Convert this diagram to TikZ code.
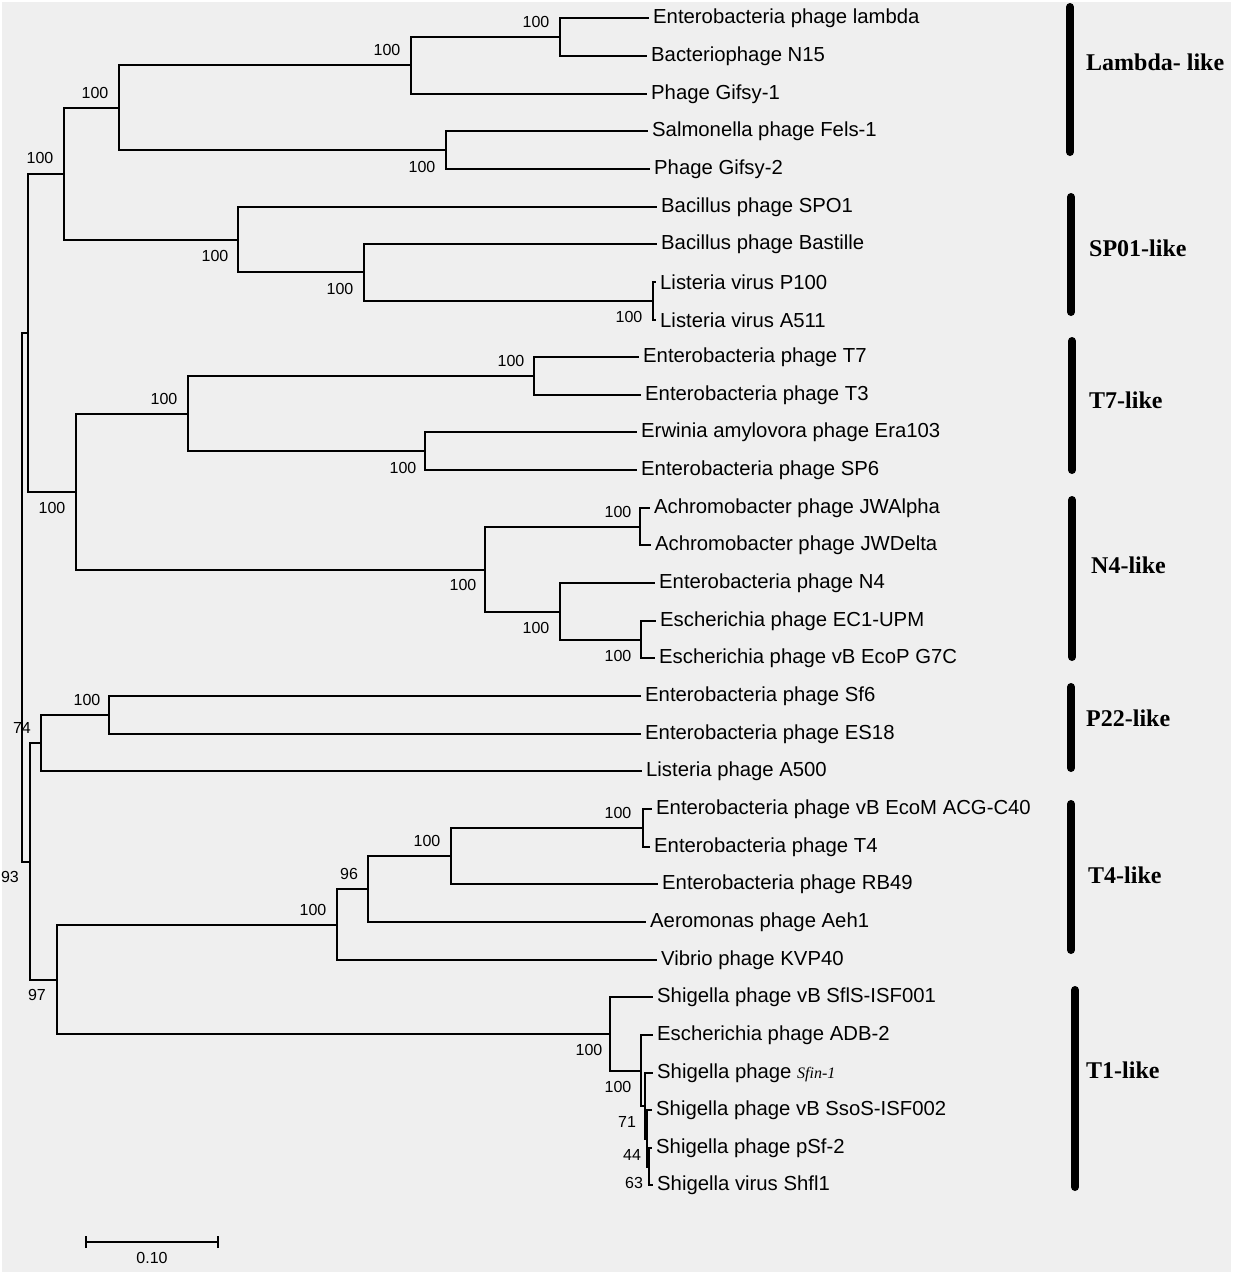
\documentclass[tikz,border=0pt]{standalone}
\usepackage{fontspec}
\setmainfont{Liberation Sans}
\newfontfamily\grpfont{Liberation Serif}
\definecolor{bg}{RGB}{239,239,239}
\begin{document}
\begin{tikzpicture}[x=1pt,y=-1pt,
  br/.style={line width=2pt, line join=miter, line cap=rect},
  leaf/.style={anchor=west, inner sep=0pt, font=\fontsize{20.3}{24}\selectfont},
  bs/.style={inner sep=0pt, font=\fontsize{16}{19}\selectfont},
  grp/.style={anchor=west, inner sep=0pt, font=\grpfont\bfseries\fontsize{24}{28}\selectfont},
  gbar/.style={line width=8pt, line cap=round}]
\useasboundingbox (0,0) rectangle (1233,1275);
\fill[white] (0,0) rectangle (1233,1275);
\fill[bg] (2,2) rectangle (1231,1272);

% leaf tips
\coordinate (t0) at (648,18);
\coordinate (t1) at (646,56);
\coordinate (t2) at (646,94);
\coordinate (t3) at (647,131);
\coordinate (t4) at (649,169);
\coordinate (t5) at (656,207);
\coordinate (t6) at (656,244);
\coordinate (t7) at (655,282);
\coordinate (t8) at (655,320);
\coordinate (t9) at (638,357);
\coordinate (t10) at (640,395);
\coordinate (t11) at (636,432);
\coordinate (t12) at (636,470);
\coordinate (t13) at (649,508);
\coordinate (t14) at (650,545);
\coordinate (t15) at (654,583);
\coordinate (t16) at (655,621);
\coordinate (t17) at (654,658);
\coordinate (t18) at (640,696);
\coordinate (t19) at (640,734);
\coordinate (t20) at (641,771);
\coordinate (t21) at (651,809);
\coordinate (t22) at (649,847);
\coordinate (t23) at (657,884);
\coordinate (t24) at (645,922);
\coordinate (t25) at (656,960);
\coordinate (t26) at (652,997);
\coordinate (t27) at (652,1035);
\coordinate (t28) at (652,1073);
\coordinate (t29) at (651,1110);
\coordinate (t30) at (651,1148);
\coordinate (t31) at (652,1185);

% leaf names
\node[leaf] (n0) at ([xshift=5pt]t0) {Enterobacteria phage lambda};
\node[leaf] (n1) at ([xshift=5pt]t1) {Bacteriophage N15};
\node[leaf] (n2) at ([xshift=5pt]t2) {Phage Gifsy-1};
\node[leaf] (n3) at ([xshift=5pt]t3) {Salmonella phage Fels-1};
\node[leaf] (n4) at ([xshift=5pt]t4) {Phage Gifsy-2};
\node[leaf] (n5) at ([xshift=5pt]t5) {Bacillus phage SPO1};
\node[leaf] (n6) at ([xshift=5pt]t6) {Bacillus phage Bastille};
\node[leaf] (n7) at ([xshift=5pt]t7) {Listeria virus P100};
\node[leaf] (n8) at ([xshift=5pt]t8) {Listeria virus A511};
\node[leaf] (n9) at ([xshift=5pt]t9) {Enterobacteria phage T7};
\node[leaf] (n10) at ([xshift=5pt]t10) {Enterobacteria phage T3};
\node[leaf] (n11) at ([xshift=5pt]t11) {Erwinia amylovora phage Era103};
\node[leaf] (n12) at ([xshift=5pt]t12) {Enterobacteria phage SP6};
\node[leaf] (n13) at ([xshift=5pt]t13) {Achromobacter phage JWAlpha};
\node[leaf] (n14) at ([xshift=5pt]t14) {Achromobacter phage JWDelta};
\node[leaf] (n15) at ([xshift=5pt]t15) {Enterobacteria phage N4};
\node[leaf] (n16) at ([xshift=5pt]t16) {Escherichia phage EC1-UPM};
\node[leaf] (n17) at ([xshift=5pt]t17) {Escherichia phage vB EcoP G7C};
\node[leaf] (n18) at ([xshift=5pt]t18) {Enterobacteria phage Sf6};
\node[leaf] (n19) at ([xshift=5pt]t19) {Enterobacteria phage ES18};
\node[leaf] (n20) at ([xshift=5pt]t20) {Listeria phage A500};
\node[leaf] (n21) at ([xshift=5pt]t21) {Enterobacteria phage vB EcoM ACG-C40};
\node[leaf] (n22) at ([xshift=5pt]t22) {Enterobacteria phage T4};
\node[leaf] (n23) at ([xshift=5pt]t23) {Enterobacteria phage RB49};
\node[leaf] (n24) at ([xshift=5pt]t24) {Aeromonas phage Aeh1};
\node[leaf] (n25) at ([xshift=5pt]t25) {Vibrio phage KVP40};
\node[leaf] (n26) at ([xshift=5pt]t26) {Shigella phage vB SflS-ISF001};
\node[leaf] (n27) at ([xshift=5pt]t27) {Escherichia phage ADB-2};
\node[leaf] (n28) at ([xshift=5pt]t28) {Shigella phage {\grpfont\itshape\fontsize{16}{19}\selectfont Sfin-1}};
\node[leaf] (n29) at ([xshift=5pt]t29) {Shigella phage vB SsoS-ISF002};
\node[leaf] (n30) at ([xshift=5pt]t30) {Shigella phage pSf-2};
\node[leaf] (n31) at ([xshift=5pt]t31) {Shigella virus Shfl1};

% internal nodes
\coordinate (L3) at (560,37);
\coordinate (L2) at (411,65);
\coordinate (L4) at (446,150);
\coordinate (L1) at (119,108);
\coordinate (S3) at (653,301);
\coordinate (S2) at (364,272);
\coordinate (S1) at (238,240);
\coordinate (C) at (64,174);
\coordinate (T2) at (534,376);
\coordinate (T3) at (425,451);
\coordinate (T1) at (188,414);
\coordinate (N2) at (640,527);
\coordinate (N4n) at (641,640);
\coordinate (N3) at (560,612);
\coordinate (N1) at (485,570);
\coordinate (D) at (76,492);
\coordinate (A) at (28,333);
\coordinate (P1) at (109,715);
\coordinate (P0) at (41,743);
\coordinate (F3) at (643,828);
\coordinate (F2) at (451,856);
\coordinate (F1) at (368,889);
\coordinate (F) at (337,925);
\coordinate (G4) at (649,1167);
\coordinate (G3) at (647,1139);
\coordinate (G2) at (645,1106);
\coordinate (G1) at (641,1071);
\coordinate (G) at (610,1034);
\coordinate (E) at (57,980);
\coordinate (B) at (30,862);
\coordinate (R) at (22,598);

% branches
\draw[br] (t0) -| (L3) |- (t1);
\draw[br] (L3) -| (L2) |- (t2);
\draw[br] (t3) -| (L4) |- (t4);
\draw[br] (L2) -| (L1) |- (L4);
\draw[br] (t7) -| (S3) |- (t8);
\draw[br] (t6) -| (S2) |- (S3);
\draw[br] (t5) -| (S1) |- (S2);
\draw[br] (L1) -| (C) |- (S1);
\draw[br] (t9) -| (T2) |- (t10);
\draw[br] (t11) -| (T3) |- (t12);
\draw[br] (T2) -| (T1) |- (T3);
\draw[br] (t13) -| (N2) |- (t14);
\draw[br] (t16) -| (N4n) |- (t17);
\draw[br] (t15) -| (N3) |- (N4n);
\draw[br] (N2) -| (N1) |- (N3);
\draw[br] (T1) -| (D) |- (N1);
\draw[br] (C) -| (A) |- (D);
\draw[br] (t18) -| (P1) |- (t19);
\draw[br] (P1) -| (P0) |- (t20);
\draw[br] (t21) -| (F3) |- (t22);
\draw[br] (F3) -| (F2) |- (t23);
\draw[br] (F2) -| (F1) |- (t24);
\draw[br] (F1) -| (F) |- (t25);
\draw[br] (t30) -| (G4) |- (t31);
\draw[br] (t29) -| (G3) |- (G4);
\draw[br] (t28) -| (G2) |- (G3);
\draw[br] (t27) -| (G1) |- (G2);
\draw[br] (t26) -| (G) |- (G1);
\draw[br] (F) -| (E) |- (G);
\draw[br] (P0) -| (B) |- (E);
\draw[br] (A) -| (R) |- (B);

% bootstrap values
\node[bs] (bL3) at (536,22) {100};
\node[bs] (bL2) at (387,50) {100};
\node[bs] (bL1) at (95,93) {100};
\node[bs] (bL4) at (422,167) {100};
\node[bs] (bC) at (40,158) {100};
\node[bs] (bS1) at (215,256) {100};
\node[bs] (bS2) at (340,289) {100};
\node[bs] (bS3) at (629,317) {100};
\node[bs] (bT2) at (511,361) {100};
\node[bs] (bT1) at (164,399) {100};
\node[bs] (bT3) at (403,468) {100};
\node[bs] (bD) at (52,508) {100};
\node[bs] (bN2) at (618,512) {100};
\node[bs] (bN1) at (463,585) {100};
\node[bs] (bN3) at (536,628) {100};
\node[bs] (bN4) at (618,656) {100};
\node[bs] (bP1) at (87,700) {100};
\node[bs] (bP0) at (22,728) {74};
\node[bs] (bF3) at (618,813) {100};
\node[bs] (bF2) at (427,841) {100};
\node[bs] (bF1) at (349,874) {96};
\node[bs] (bF) at (313,910) {100};
\node[bs] (bB) at (10,877) {93};
\node[bs] (bE) at (37,995) {97};
\node[bs] (bG) at (589,1050) {100};
\node[bs] (bG1) at (618,1087) {100};
\node[bs] (bG2) at (627,1122) {71};
\node[bs] (bG3) at (632,1155) {44};
\node[bs] (bG4) at (634,1183) {63};

% group bars and labels
\draw[gbar] (1070,7) -- (1070,152);
\draw[gbar] (1071,197) -- (1071,312);
\draw[gbar] (1072,341) -- (1072,470);
\draw[gbar] (1072,500) -- (1072,657);
\draw[gbar] (1071,687) -- (1071,768);
\draw[gbar] (1071,804) -- (1071,950);
\draw[gbar] (1075,990) -- (1075,1187);
\node[grp] (gL) at (1086,62) {Lambda- like};
\node[grp] (gS) at (1089,248) {SP01-like};
\node[grp] (gT7) at (1089,400) {T7-like};
\node[grp] (gN4) at (1091,565) {N4-like};
\node[grp] (gP) at (1086,718) {P22-like};
\node[grp] (gT4) at (1088,875) {T4-like};
\node[grp] (gT1) at (1086,1070) {T1-like};

% scale bar
\coordinate (sb1) at (86,1242);
\coordinate (sb2) at (218,1242);
\draw[line width=2pt] (sb1) -- (sb2);
\draw[line width=2pt] ([yshift=-6pt]sb1) -- ([yshift=6pt]sb1);
\draw[line width=2pt] ([yshift=-6pt]sb2) -- ([yshift=6pt]sb2);
\node[bs] (sbl) at (152,1258) {0.10};
\end{tikzpicture}
\end{document}
